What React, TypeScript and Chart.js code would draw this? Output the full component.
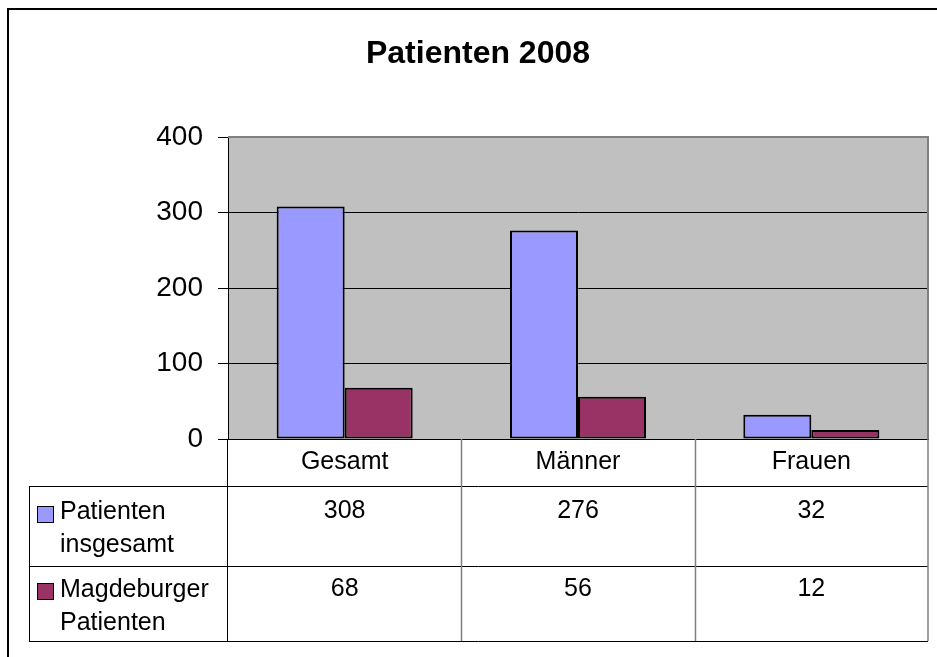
import React, { useEffect, useRef } from "react";
import { Chart, registerables } from "chart.js";

Chart.register(...registerables);

// ---- data ----
const titleText = "Patienten 2008";
const categories = ["Gesamt", "Männer", "Frauen"];
const seriesLabels = ["Patienten insgesamt", "Magdeburger Patienten"];
const seriesLabelLines = [
  ["Patienten", "insgesamt"],
  ["Magdeburger", "Patienten"],
];
const patientenInsgesamt = [308, 276, 32];
const magdeburgerPatienten = [68, 56, 12];
const yTickValues = [0, 100, 200, 300, 400];

// ---- styles ----
const FONT = "'Liberation Sans', Arial, Helvetica, sans-serif";
const COLORS = ["#9999FF", "#993366"];
const PLOT_BG = "#C0C0C0";
const BORDER_GRAY = "#808080";

const tablePlugin = {
  id: "excelDecor",
  beforeDraw(chart: any) {
    const { ctx, chartArea: a } = chart;
    ctx.save();
    ctx.fillStyle = "#ffffff";
    ctx.fillRect(0, 0, chart.width, chart.height);
    ctx.fillStyle = PLOT_BG;
    ctx.fillRect(a.left, a.top, a.right - a.left, a.bottom - a.top);
    ctx.restore();
  },
  beforeDatasetsDraw(chart: any) {
    const { ctx, chartArea: a } = chart;
    ctx.save();
    ctx.strokeStyle = BORDER_GRAY;
    ctx.lineWidth = 2;
    ctx.beginPath();
    ctx.moveTo(a.left, a.top);
    ctx.lineTo(a.right, a.top);
    ctx.lineTo(a.right, a.bottom);
    ctx.stroke();
    ctx.restore();
  },
  afterDraw(chart: any) {
    const { ctx, chartArea: a } = chart;
    const xs = chart.scales.x;
    const catW = xs.getPixelForValue(1) - xs.getPixelForValue(0);
    const colEdges = categories.map((_, i) => a.left + i * catW);
    colEdges.push(a.right);
    const rowY = [a.bottom, 486, 566, 641];
    const tableLeft = 29;

    ctx.save();
    // horizontal lines
    ctx.strokeStyle = "#000";
    ctx.lineWidth = 1;
    ctx.beginPath();
    for (let r = 1; r < rowY.length; r++) {
      const y = Math.round(rowY[r]) + 0.5;
      ctx.moveTo(tableLeft, y);
      ctx.lineTo(a.right, y);
    }
    // left borders
    ctx.moveTo(tableLeft + 0.5, rowY[1]);
    ctx.lineTo(tableLeft + 0.5, rowY[3]);
    ctx.moveTo(Math.round(a.left) - 0.5, rowY[0]);
    ctx.lineTo(Math.round(a.left) - 0.5, rowY[3]);
    ctx.stroke();

    // internal column dividers (gray)
    ctx.strokeStyle = BORDER_GRAY;
    ctx.lineWidth = 1.5;
    ctx.beginPath();
    for (let i = 1; i < colEdges.length; i++) {
      const x = i === colEdges.length - 1 ? colEdges[i] : Math.round(colEdges[i]) + 0.5;
      ctx.moveTo(x, rowY[0]);
      ctx.lineTo(x, rowY[3]);
    }
    ctx.stroke();

    // text
    ctx.fillStyle = "#000";
    ctx.font = `25px ${FONT}`;
    ctx.textBaseline = "alphabetic";
    ctx.textAlign = "center";
    const series = [patientenInsgesamt, magdeburgerPatienten];
    categories.forEach((c, i) => {
      const cx = (colEdges[i] + colEdges[i + 1]) / 2;
      ctx.fillText(c, cx, 469);
      ctx.fillText(String(series[0][i]), cx, 518);
      ctx.fillText(String(series[1][i]), cx, 596);
    });

    // legend keys + labels
    const firstBaseline = [519, 597];
    const boxTop = [506, 583];
    ctx.textAlign = "left";
    seriesLabelLines.forEach((lines, s) => {
      ctx.fillStyle = COLORS[s];
      ctx.fillRect(37, boxTop[s], 17, 17);
      ctx.strokeStyle = "#000";
      ctx.lineWidth = 1;
      ctx.strokeRect(37.5, boxTop[s] + 0.5, 16, 16);
      ctx.fillStyle = "#000";
      lines.forEach((t, k) => ctx.fillText(t, 60, firstBaseline[s] + k * 33));
    });

    // outer frame
    ctx.strokeStyle = "#000";
    ctx.lineWidth = 2;
    ctx.beginPath();
    ctx.moveTo(8, chart.height + 2);
    ctx.lineTo(8, 9);
    ctx.lineTo(chart.width + 2, 9);
    ctx.stroke();
    ctx.restore();
  },
};

export default function App() {
  const ref = useRef<HTMLCanvasElement | null>(null);

  useEffect(() => {
    if (!ref.current) return;
    const chart = new Chart(ref.current, {
      type: "bar",
      data: {
        labels: categories,
        datasets: [
          {
            label: seriesLabels[0],
            data: patientenInsgesamt,
            backgroundColor: COLORS[0],
            borderColor: "#000",
            borderWidth: 2,
            borderSkipped: false,
            categoryPercentage: 0.583,
            barPercentage: 1,
          },
          {
            label: seriesLabels[1],
            data: magdeburgerPatienten,
            backgroundColor: COLORS[1],
            borderColor: "#000",
            borderWidth: 2,
            borderSkipped: false,
            categoryPercentage: 0.583,
            barPercentage: 1,
          },
        ],
      },
      options: {
        responsive: false,
        animation: false,
        devicePixelRatio: 1,
        layout: { padding: { left: 28, right: 9, top: 0, bottom: 218 } },
        plugins: {
          legend: { display: false },
          tooltip: { enabled: false },
          title: {
            display: true,
            text: titleText,
            color: "#000",
            font: { family: FONT, size: 32, weight: "bold", lineHeight: 1.2 },
            padding: { top: 35, bottom: 63.6 },
          },
        },
        scales: {
          x: {
            offset: true,
            grid: { display: false, drawTicks: false },
            ticks: { display: false },
            border: { display: true, color: "#000", width: 1 },
          },
          y: {
            min: 0,
            max: 400,
            afterBuildTicks: (s: any) => {
              s.ticks = yTickValues.map((v) => ({ value: v }));
            },
            afterFit: (s: any) => {
              s.width = 200;
            },
            grid: {
              color: "#000",
              tickColor: "#000",
              lineWidth: 1,
              tickLength: 10,
            },
            border: { display: true, color: "#000", width: 1 },
            ticks: {
              padding: 15,
              color: "#000",
              font: { family: FONT, size: 28 },
            },
          },
        },
      },
      plugins: [tablePlugin],
    });
    return () => chart.destroy();
  }, []);

  return (
    <div style={{ position: "fixed", left: 0, top: 0, width: 937, height: 657, background: "#fff" }}>
      <canvas ref={ref} width={937} height={657} style={{ width: 937, height: 657, display: "block" }} />
    </div>
  );
}
